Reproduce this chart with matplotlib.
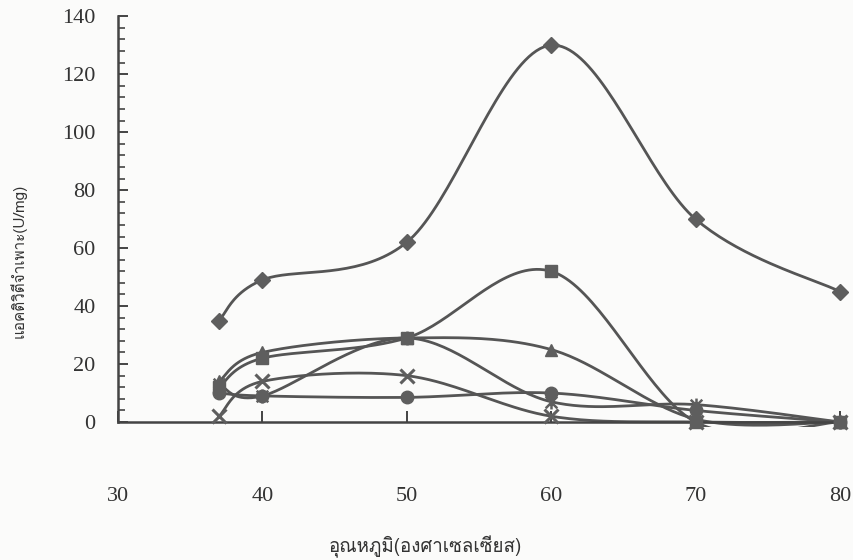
import numpy as np
import matplotlib
matplotlib.use("Agg")
import matplotlib.pyplot as plt
from matplotlib.path import Path
from matplotlib.patches import Rectangle
from matplotlib.ticker import MultipleLocator
from matplotlib import font_manager
from matplotlib.ft2font import FT2Font

# Temperatures (degrees Celsius) and specific activity (U/mg) per series
temps = [37, 40, 50, 60, 70, 80]
s_diamond = [35, 49, 62, 130, 70, 45]
s_square = [12, 22, 29, 52, 0, 0]
s_triangle = [14, 24, 29, 25, 1, 0]
s_cross = [2, 14, 16, 2, 0, 0]
s_star = [13, 9, 29, 7, 6, 0]
s_circle = [10, 9, 8.5, 10, 4, 0]

x_ticks = [30, 40, 50, 60, 70, 80]
y_ticks = [0, 20, 40, 60, 80, 100, 120, 140]

x_label = "อุณหภูมิ(องศาเซลเซียส)"
y_label = "แอคติวิตีจำเพาะ(U/mg)"


def find_thai_family():
    for f in font_manager.fontManager.ttflist:
        try:
            cmap = FT2Font(f.fname).get_charmap()
        except Exception:
            continue
        if 0x0E2D in cmap and 0x0E38 in cmap:
            return f.name
    return "DejaVu Sans"


thai_family = find_thai_family()


def smooth(xs, ys, n=40):
    """Catmull-Rom style cubic Bezier through the points."""
    pts = np.column_stack([xs, ys]).astype(float)
    out = [pts[0]]
    m = len(pts)
    for i in range(m - 1):
        p0 = pts[i - 1] if i > 0 else pts[i]
        p1 = pts[i]
        p2 = pts[i + 1]
        p3 = pts[i + 2] if i + 2 < m else pts[i + 1]
        c1 = p1 + (p2 - p0) / 6.0
        c2 = p2 - (p3 - p1) / 6.0
        t = np.linspace(0, 1, n)[1:, None]
        seg = ((1 - t) ** 3) * p1 + 3 * ((1 - t) ** 2) * t * c1 \
            + 3 * (1 - t) * t ** 2 * c2 + t ** 3 * p2
        out.extend(seg)
    out = np.array(out)
    return out[:, 0], out[:, 1]


# Excel-style star marker: an "x" with a vertical bar
star_marker = Path(
    [(-1, -1), (1, 1), (-1, 1), (1, -1), (0, -1.2), (0, 1.2)],
    [Path.MOVETO, Path.LINETO, Path.MOVETO, Path.LINETO, Path.MOVETO, Path.LINETO],
)

line_col = "#555555"
mark_col = "#5e5e5e"

fig = plt.figure(figsize=(8.54, 5.6), dpi=100)
fig.patch.set_facecolor("#fbfbfa")
ax = fig.add_axes([0.138, 0.2464, 0.8456, 0.7246])
ax.set_facecolor("none")

series = [
    (s_diamond, dict(marker="D", ms=8)),
    (s_square, dict(marker="s", ms=9)),
    (s_triangle, dict(marker="^", ms=9)),
    (s_cross, dict(marker="x", ms=10, mew=2.2)),
    (s_star, dict(marker=star_marker, ms=10, mew=1.8)),
    (s_circle, dict(marker="o", ms=9)),
]

# curves may dip a little under the axis line, but not far
clip_box = Rectangle((28, -1.6), 60, 150, transform=ax.transData,
                     facecolor="none", edgecolor="none")
ax.add_patch(clip_box)

for ys, mstyle in series:
    sx, sy = smooth(temps, ys)
    ln, = ax.plot(sx, sy, color=line_col, lw=2.0, solid_capstyle="round",
                  zorder=2)
    ln.set_clip_path(clip_box)
    ax.plot(temps, ys, ls="none", color=mark_col, mec=mark_col,
            clip_on=False, zorder=3, **mstyle)

ax.set_xlim(30, 80)
ax.set_ylim(0, 140)
ax.set_xticks(x_ticks)
ax.set_yticks(y_ticks)
ax.yaxis.set_minor_locator(MultipleLocator(4))

for side in ("top", "right"):
    ax.spines[side].set_visible(False)
for side in ("left", "bottom"):
    ax.spines[side].set_color("#444444")
    ax.spines[side].set_linewidth(1.8)

ax.tick_params(axis="both", which="both", direction="in", colors="#444444")
ax.tick_params(axis="y", which="major", length=7, width=1.4, pad=16)
ax.tick_params(axis="y", which="minor", length=5, width=1.2)
ax.tick_params(axis="x", which="major", length=8, width=1.4, pad=47)

for lab in ax.get_xticklabels() + ax.get_yticklabels():
    lab.set_fontfamily("Liberation Serif")
    lab.set_fontsize(16)
    lab.set_color("#333333")

fig.text(0.498, 0.023, x_label, ha="center", va="center",
         fontsize=13.5, color="#333333", family=[thai_family, "DejaVu Sans"])
fig.text(0.021, 0.535, y_label, ha="center", va="center", rotation=90,
         fontsize=11, color="#333333", family=[thai_family, "DejaVu Sans"])

fig.savefig("out.png", dpi=100, facecolor=fig.get_facecolor())
